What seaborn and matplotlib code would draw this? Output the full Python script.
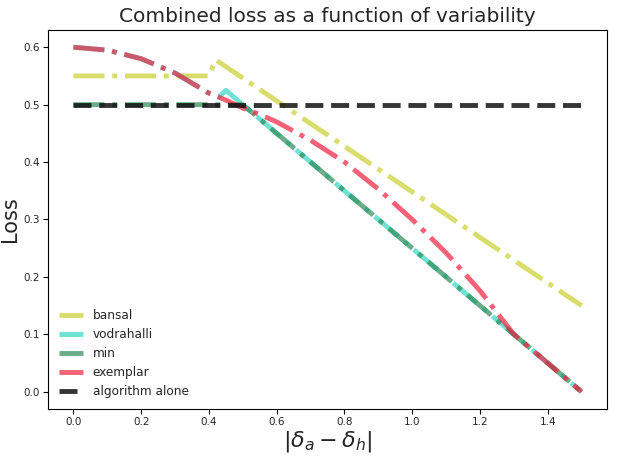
import matplotlib
matplotlib.use("Agg")
import matplotlib.pyplot as plt
import seaborn as sns

# ---- data ----
bansal_x = [0.0, 0.40, 0.42, 1.5]
bansal_y = [0.55, 0.55, 0.578, 0.15]

vodrahalli_x = [0.0, 0.1, 0.2, 0.3, 0.4, 0.43, 0.45, 1.5]
vodrahalli_y = [0.6, 0.595, 0.58, 0.555, 0.52, 0.513, 0.525, 0.0]

min_x = [0.0, 0.5, 1.5]
min_y = [0.5, 0.5, 0.0]

exemplar_x = [0.0, 0.1, 0.2, 0.3, 0.4, 0.45, 0.5, 0.55, 0.6, 0.7, 0.8, 0.9,
              1.0, 1.1, 1.2, 1.3, 1.4, 1.5]
exemplar_y = [0.6, 0.595, 0.58, 0.555, 0.52, 0.508, 0.494, 0.483, 0.47, 0.438,
              0.40, 0.353, 0.30, 0.242, 0.176, 0.10, 0.05, 0.0]

alg_x = [0.0, 1.5]
alg_y = [0.5, 0.5]

labels = ["bansal", "vodrahalli", "min", "exemplar", "algorithm alone"]
colors = ["#c8cf2e", "#33d6c4", "#2e8b57", "#f0203f", "#111111"]
styles = ["-.", "-.", "-.", "-.", "--"]
alphas = [0.7, 0.7, 0.7, 0.7, 0.85]

sns.set_style("ticks")
plt.rcParams["font.family"] = ["DejaVu Sans"]

fig = plt.figure(figsize=(6.18, 4.59), dpi=100)
ax = fig.add_axes([48 / 618, 50 / 459, (607 - 48) / 618, (409 - 30) / 459])

series = [(bansal_x, bansal_y), (vodrahalli_x, vodrahalli_y), (min_x, min_y),
          (exemplar_x, exemplar_y), (alg_x, alg_y)]
for (xs, ys), lab, c, ls, a in zip(series, labels, colors, styles, alphas):
    sns.lineplot(x=xs, y=ys, ax=ax, color=c, linestyle=ls, linewidth=3.5,
                 alpha=a, label=lab, sort=False, estimator=None)

ax.set_title("Combined loss as a function of variability", fontsize=14.5)
ax.set_xlabel(r"$|\delta_a - \delta_h|$", fontsize=16, labelpad=1)
ax.set_ylabel("Loss", fontsize=15, labelpad=2)
ax.tick_params(labelsize=7.5, length=3.5, width=0.8, color="black", pad=2.5)
for s in ax.spines.values():
    s.set_color("black")
    s.set_linewidth(0.8)
ax.legend(loc="lower left", frameon=False, fontsize=8.7)

fig.savefig("out.png", dpi=100)
